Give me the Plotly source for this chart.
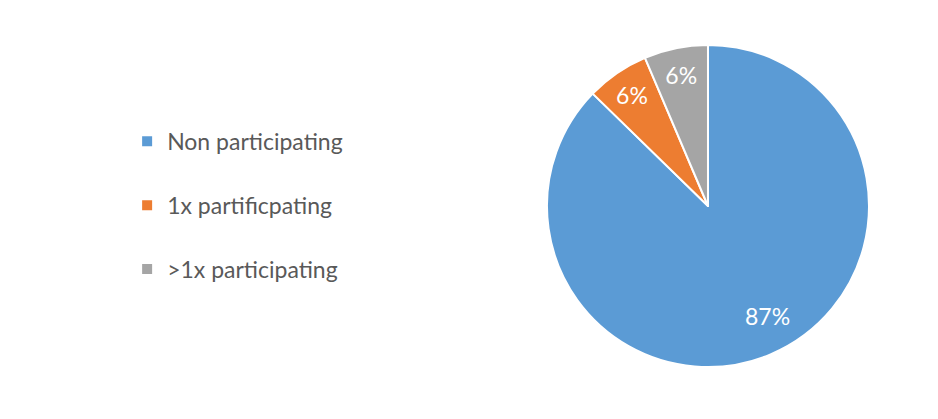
import math
import plotly.graph_objects as go

labels = ["Non participating", "1x partificpating", ">1x participating"]
values = [87.3, 6.3, 6.4]
colors = ["#5B9BD5", "#ED7D31", "#A5A5A5"]

W, H = 938, 419
dom_x = [0.5746, 0.9179]
dom_y = [0.1432, 0.9117]

total = sum(values)
pct_text = ["%d%%" % round(100 * v / total) for v in values]
# first (large) slice label is placed as an annotation further out, like the original
slice_text = [""] + pct_text[1:]

fig = go.Figure()
fig.add_trace(go.Pie(
    labels=labels, values=values, sort=False, direction="clockwise", rotation=0,
    marker=dict(colors=colors, line=dict(color="white", width=2)),
    text=slice_text, textinfo="text", textposition="inside",
    insidetextorientation="horizontal",
    textfont=dict(color="white", size=23, family="Lato"),
    showlegend=False, hoverinfo="label+percent",
    domain=dict(x=dom_x, y=dom_y),
))
for lab, col in zip(labels, colors):
    fig.add_trace(go.Scatter(
        x=[None], y=[None], mode="markers", name=lab, legendgroup=lab,
        marker=dict(symbol="square", size=10, color=col),
    ))

# label of the big slice, computed from its value
cx = (dom_x[0] + dom_x[1]) / 2 * W
cy = (dom_y[0] + dom_y[1]) / 2 * H
r = min((dom_x[1] - dom_x[0]) * W, (dom_y[1] - dom_y[0]) * H) / 2
ang = 2 * math.pi * (values[0] / total) * 0.482
lx = (cx + 0.78 * r * math.sin(ang)) / W
ly = (cy + 0.78 * r * math.cos(ang)) / H

fig.update_layout(
    width=W, height=H, margin=dict(l=0, r=0, t=0, b=0),
    paper_bgcolor="white", plot_bgcolor="white",
    xaxis=dict(visible=False), yaxis=dict(visible=False),
    legend=dict(x=0.127, y=0.529, xanchor="left", yanchor="middle",
                font=dict(family="Lato", size=23, color="#595959"),
                tracegroupgap=31, bgcolor="rgba(0,0,0,0)"),
    font=dict(family="Lato"),
    annotations=[dict(x=lx, y=ly, xref="paper", yref="paper", text=pct_text[0],
                      xanchor="center", yanchor="middle",
                      showarrow=False, font=dict(color="white", size=23, family="Lato"))],
)
fig.write_html("out.html")
